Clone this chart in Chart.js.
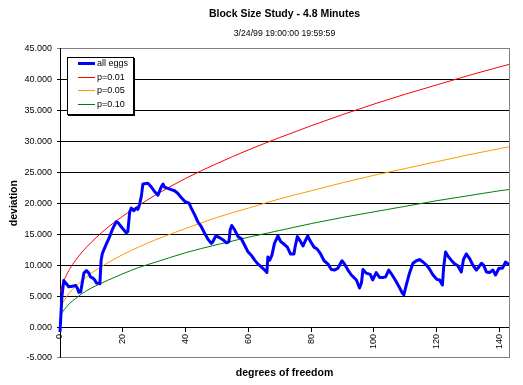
<!DOCTYPE html>
<html><head><meta charset="utf-8">
<script src="https://cdn.jsdelivr.net/npm/chart.js@4.4.0/dist/chart.umd.min.js"></script>
<style>html,body{margin:0;padding:0;background:#fff;}#wrap{width:523px;height:385px;}</style>
</head><body><div id="wrap"><canvas id="c" width="523" height="385"></canvas></div>
<script>
const chartTitle = 'Block Size Study - 4.8 Minutes';
const chartSubtitle = '3/24/99 19:00:00 19:59:59';
const xTitle = 'degrees of freedom';
const yTitle = 'deviation';
const seriesNames = ['all eggs', 'p=0.01', 'p=0.05', 'p=0.10'];
const xTickValues = [0, 20, 40, 60, 80, 100, 120, 140];
const yTickValues = [-5, 0, 5, 10, 15, 20, 25, 30, 35, 40, 45];

const eggsX = [
  0, 0.6, 1.2, 2.8, 3.9, 5.0, 5.5, 6.0, 6.6, 7.1,
  7.6, 8.4, 9.2, 9.7, 10.5, 11.1, 11.6, 12.7, 13.1, 13.5,
  14.5, 15.8, 16.8, 17.9, 18.4, 19.5, 21.1, 21.6, 22.2, 22.7,
  23.5, 24.3, 24.8, 25.3, 25.9, 26.4, 28.0, 29.1, 30.1, 31.2,
  32.3, 32.8, 33.3, 35.4, 36.5, 37.5, 38.6, 39.7, 41.1, 41.8,
  42.9, 43.9, 45.0, 46.1, 47.1, 48.2, 48.7, 49.6, 50.6, 51.9,
  53.0, 53.8, 54.2, 54.7, 55.6, 56.7, 57.7, 58.8, 59.8, 60.9,
  62.0, 63.0, 64.1, 65.2, 65.9, 66.2, 66.8, 67.5, 68.3, 69.4,
  70.3, 71.3, 72.4, 73.4, 74.5, 74.9, 75.6, 76.6, 77.4, 78.1,
  78.9, 79.8, 80.9, 81.9, 83.0, 84.1, 85.3, 86.4, 87.5, 88.5,
  89.8, 90.6, 91.7, 92.8, 94.4, 95.4, 96.0, 96.5, 97.5, 98.8,
  99.6, 100.7, 101.8, 102.8, 103.7, 104.7, 105.8, 107.1, 108.1, 109.0,
  109.5, 110.3, 111.3, 112.4, 113.5, 114.5, 115.6, 116.7, 117.5, 118.8,
  120.0, 120.9, 121.8, 122.2, 122.8, 123.5, 124.6, 125.7, 126.7, 127.8,
  128.5, 129.4, 130.4, 131.5, 132.6, 133.4, 134.2, 134.9, 135.8, 136.8,
  137.9, 138.7, 139.8, 140.9, 141.9, 143.0
];
const eggsY = [
  -0.8, 4.9, 7.5, 6.5, 6.6, 6.7, 6.3, 5.6, 5.7, 7.2,
  8.7, 9.1, 8.7, 8.1, 7.9, 7.6, 7.1, 7.0, 10.8, 11.9,
  13.1, 14.6, 15.9, 17.0, 16.9, 16.2, 15.2, 15.4, 18.6, 19.2,
  18.8, 19.2, 19.0, 19.7, 21.1, 23.1, 23.2, 22.6, 21.9, 21.3,
  22.7, 23.1, 22.6, 22.2, 22.0, 21.6, 20.9, 20.3, 20.0, 19.2,
  18.1, 17.0, 16.2, 15.1, 14.2, 13.5, 13.8, 14.7, 14.5, 14.1,
  13.6, 13.8, 15.7, 16.4, 15.7, 14.6, 14.3, 13.2, 12.2, 11.6,
  10.8, 10.2, 9.7, 9.2, 8.8, 11.3, 10.8, 11.6, 13.5, 14.7,
  13.8, 13.4, 12.9, 11.8, 11.8, 13.0, 14.6, 13.8, 13.1, 13.9,
  14.7, 13.8, 12.9, 12.6, 11.8, 10.7, 10.2, 9.3, 9.2, 9.5,
  10.7, 10.2, 9.2, 8.4, 7.6, 6.3, 7.1, 9.3, 8.7, 8.5,
  7.6, 8.8, 8.0, 8.0, 8.1, 9.2, 8.4, 7.3, 6.4, 5.5,
  5.2, 6.8, 8.7, 10.3, 10.7, 10.9, 10.5, 10.0, 9.5, 8.4,
  7.7, 7.6, 6.8, 9.7, 12.1, 11.5, 10.8, 10.2, 9.9, 8.9,
  10.9, 11.8, 11.1, 10.0, 9.2, 9.7, 10.3, 10.0, 8.9, 8.8,
  9.2, 8.4, 9.5, 9.5, 10.5, 10.1
];

const critX = [0, 1, 2, 3, 5, 7, 10, 15, 20, 25, 30, 40, 50, 60, 70, 80, 90, 100, 110, 120, 130, 140, 143];
const p01Y = [5.6, 7.2, 8.3, 9.3, 10.8, 12.1, 13.7, 16.0, 17.9, 19.6, 21.2, 24.0, 26.4, 28.6, 30.6, 32.5, 34.3, 36.0, 37.6, 39.1, 40.6, 42.0, 42.4];
const p05Y = [2.8, 4.0, 4.8, 5.5, 6.6, 7.5, 8.7, 10.3, 11.7, 12.9, 14.0, 15.9, 17.7, 19.2, 20.7, 22.0, 23.3, 24.5, 25.6, 26.7, 27.8, 28.8, 29.1];
const p10Y = [1.7, 2.6, 3.2, 3.8, 4.6, 5.4, 6.3, 7.5, 8.6, 9.6, 10.4, 12.0, 13.3, 14.5, 15.6, 16.7, 17.7, 18.6, 19.5, 20.4, 21.2, 22.0, 22.2];

const FONT = '"Liberation Sans", Arial, sans-serif';
const toPts = (xs, ys) => xs.map((x, i) => ({x: x, y: ys[i]}));

const insideLegend = {
  id: 'insideLegend',
  afterDraw(chart) {
    const ctx = chart.ctx;
    const ca = chart.chartArea;
    const bx = Math.round(ca.left) + 7, by = Math.round(ca.top) + 9, bw = 67, bh = 58;
    ctx.save();
    ctx.fillStyle = '#000';
    ctx.fillRect(bx + 1, by + 1, bw, bh);
    ctx.fillStyle = '#fff';
    ctx.fillRect(bx, by, bw, bh);
    ctx.strokeStyle = '#000';
    ctx.lineWidth = 1;
    ctx.strokeRect(bx + 0.5, by + 0.5, bw - 1, bh - 1);
    ctx.font = '9px ' + FONT;
    ctx.textBaseline = 'middle';
    ctx.textAlign = 'left';
    chart.data.datasets.forEach((ds, i) => {
      const y = Math.round(by + 5.7 + i * 13.8);
      ctx.strokeStyle = ds.borderColor;
      ctx.lineWidth = ds.borderWidth === 1 ? 1 : 3;
      ctx.beginPath();
      ctx.moveTo(bx + 11, y + 0.5);
      ctx.lineTo(bx + 28, y + 0.5);
      ctx.stroke();
      ctx.fillStyle = '#000';
      ctx.fillText(ds.label, bx + 30, y + 1);
    });
    ctx.restore();
  }
};

new Chart(document.getElementById('c'), {
  type: 'line',
  data: {
    datasets: [
      {label: seriesNames[0], data: toPts(eggsX, eggsY), borderColor: '#0000FF', borderWidth: 3, pointRadius: 0, xAxisID: 'x', yAxisID: 'y', borderJoinStyle: 'round', clip: {left: 3, top: 0, right: 0, bottom: 0}},
      {label: seriesNames[1], data: toPts(critX, p01Y), borderColor: '#FF0000', borderWidth: 1, pointRadius: 0, cubicInterpolationMode: 'monotone', xAxisID: 'x', yAxisID: 'y'},
      {label: seriesNames[2], data: toPts(critX, p05Y), borderColor: '#FF9900', borderWidth: 1, pointRadius: 0, cubicInterpolationMode: 'monotone', xAxisID: 'x', yAxisID: 'y'},
      {label: seriesNames[3], data: toPts(critX, p10Y), borderColor: '#008000', borderWidth: 1, pointRadius: 0, cubicInterpolationMode: 'monotone', xAxisID: 'x', yAxisID: 'y'}
    ]
  },
  options: {
    responsive: false,
    animation: false,
    devicePixelRatio: 1,
    layout: {padding: 0},
    plugins: {
      legend: {display: false},
      tooltip: {enabled: false},
      title: {display: true, text: chartTitle, fullSize: false, color: '#000', font: {family: FONT, size: 10.5, weight: 'bold'}, padding: {top: 7.4, bottom: 0}},
      subtitle: {display: true, text: chartSubtitle, fullSize: false, color: '#000', font: {family: FONT, size: 8.7, weight: 'normal'}, padding: {top: 8.8, bottom: 9.1}}
    },
    scales: {
      x: {
        axis: 'x', type: 'linear', min: 0, max: 143, position: {y: 0},
        afterBuildTicks: s => { s.ticks = xTickValues.map(v => ({value: v})); },
        ticks: {autoSkip: false, minRotation: 90, maxRotation: 90, color: '#000', font: {family: FONT, size: 9}, padding: 3},
        grid: {drawOnChartArea: false, drawTicks: true, tickLength: 4, color: '#000'},
        border: {color: '#000', width: 1}
      },
      x2: {
        axis: 'x', type: 'linear', min: 0, max: 143, position: 'bottom',
        ticks: {display: false},
        grid: {drawOnChartArea: false, drawTicks: false},
        border: {color: '#808080', width: 1},
        title: {display: true, text: xTitle, color: '#000', font: {family: FONT, size: 10.5, weight: 'bold'}, padding: {top: 0, bottom: 5.7}},
        afterFit: s => { s.height = 27; }
      },
      y: {
        axis: 'y', type: 'linear', min: -5, max: 45, position: 'left',
        afterBuildTicks: s => { s.ticks = yTickValues.map(v => ({value: v})); },
        ticks: {color: '#000', font: {family: FONT, size: 9}, padding: 5, callback: v => Number(v).toFixed(3)},
        grid: {color: c => (c.tick && (c.tick.value === 45 || c.tick.value === -5)) ? '#808080' : '#000', tickLength: 3, lineWidth: 1},
        border: {color: '#000', width: 1},
        title: {display: true, text: yTitle, color: '#000', font: {family: FONT, size: 10.5, weight: 'bold'}, padding: {top: 7.7, bottom: 0}},
        afterFit: s => { s.width = 60; }
      },
      y2: {
        axis: 'y', type: 'linear', min: -5, max: 45, position: 'right',
        ticks: {display: false},
        grid: {drawOnChartArea: false, drawTicks: false},
        border: {color: '#808080', width: 1},
        afterFit: s => { s.width = 14; }
      }
    }
  },
  plugins: [insideLegend]
});
</script>
</body></html>
